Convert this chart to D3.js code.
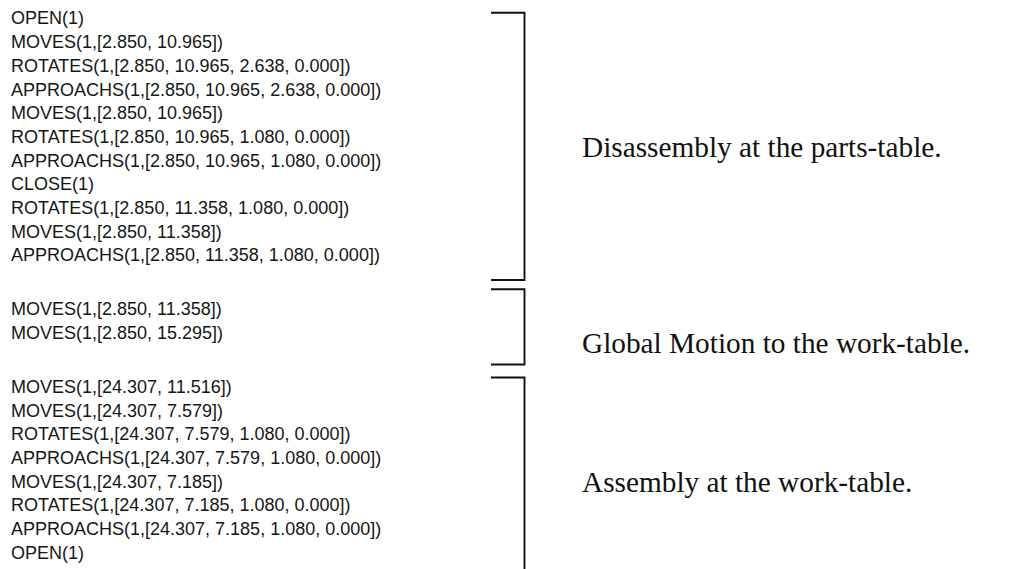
<!DOCTYPE html>
<html>
<head>
<meta charset="utf-8">
<script src="https://cdn.jsdelivr.net/npm/d3@7"></script>
<style>
  html, body { margin: 0; padding: 0; background: #fff; }
  svg { display: block; }
</style>
</head>
<body>
<div id="chart"></div>
<script>
// ---- data (text of the figure) ----
const disassemblyLines = [
  "OPEN(1)",
  "MOVES(1,[2.850, 10.965])",
  "ROTATES(1,[2.850, 10.965, 2.638, 0.000])",
  "APPROACHS(1,[2.850, 10.965, 2.638, 0.000])",
  "MOVES(1,[2.850, 10.965])",
  "ROTATES(1,[2.850, 10.965, 1.080, 0.000])",
  "APPROACHS(1,[2.850, 10.965, 1.080, 0.000])",
  "CLOSE(1)",
  "ROTATES(1,[2.850, 11.358, 1.080, 0.000])",
  "MOVES(1,[2.850, 11.358])",
  "APPROACHS(1,[2.850, 11.358, 1.080, 0.000])"
];
const globalMotionLines = [
  "MOVES(1,[2.850, 11.358])",
  "MOVES(1,[2.850, 15.295])"
];
const assemblyLines = [
  "MOVES(1,[24.307, 11.516])",
  "MOVES(1,[24.307, 7.579])",
  "ROTATES(1,[24.307, 7.579, 1.080, 0.000])",
  "APPROACHS(1,[24.307, 7.579, 1.080, 0.000])",
  "MOVES(1,[24.307, 7.185])",
  "ROTATES(1,[24.307, 7.185, 1.080, 0.000])",
  "APPROACHS(1,[24.307, 7.185, 1.080, 0.000])",
  "OPEN(1)"
];
const phaseLabels = [
  "Disassembly at the parts-table.",
  "Global Motion to the work-table.",
  "Assembly at the work-table."
];

// ---- layout ----
const W = 1018, H = 569;
const pitch = 23.7;
const layout = [
  { top: 12.7,  bottom: 280,   firstCenter: 18,    labelBaseline: 156.5, closed: true },
  { top: 289.3, bottom: 364.5, firstCenter: 309,   labelBaseline: 353,   closed: true },
  { top: 377.5, bottom: 569,   firstCenter: 386.5, labelBaseline: 491.5, closed: false }
];
const blocks = [disassemblyLines, globalMotionLines, assemblyLines].map((lines, i) =>
  Object.assign({ lines, label: phaseLabels[i] }, layout[i]));

const textX = 11;
const bracketLeft = 491, bracketX = 524.5;
const labelX = 582;

const svg = d3.select("#chart").append("svg")
  .attr("width", W).attr("height", H)
  .attr("viewBox", `0 0 ${W} ${H}`);

svg.append("rect").attr("width", W).attr("height", H).attr("fill", "#fff");

blocks.forEach(b => {
  const y = d3.scaleLinear().domain([0, 1]).range([b.firstCenter, b.firstCenter + pitch]);
  const g = svg.append("g");
  g.selectAll("text")
    .data(b.lines)
    .join("text")
    .attr("x", textX)
    .attr("y", (d, i) => y(i) + 6.4)
    .attr("font-family", "'Liberation Sans', Arial, Helvetica, sans-serif")
    .attr("font-size", 18)
    .attr("fill", "#161616")
    .text(d => d);

  const pts = [[bracketLeft, b.top], [bracketX, b.top], [bracketX, b.bottom]];
  if (b.closed) pts.push([bracketLeft, b.bottom]);
  svg.append("path")
    .attr("d", d3.line()(pts))
    .attr("fill", "none")
    .attr("stroke", "#111")
    .attr("stroke-width", 1.9);

  svg.append("text")
    .attr("x", labelX)
    .attr("y", b.labelBaseline)
    .attr("font-family", "'Liberation Serif', 'Times New Roman', Times, serif")
    .attr("font-size", 29.3)
    .attr("fill", "#111")
    .text(b.label);
});
</script>
</body>
</html>
